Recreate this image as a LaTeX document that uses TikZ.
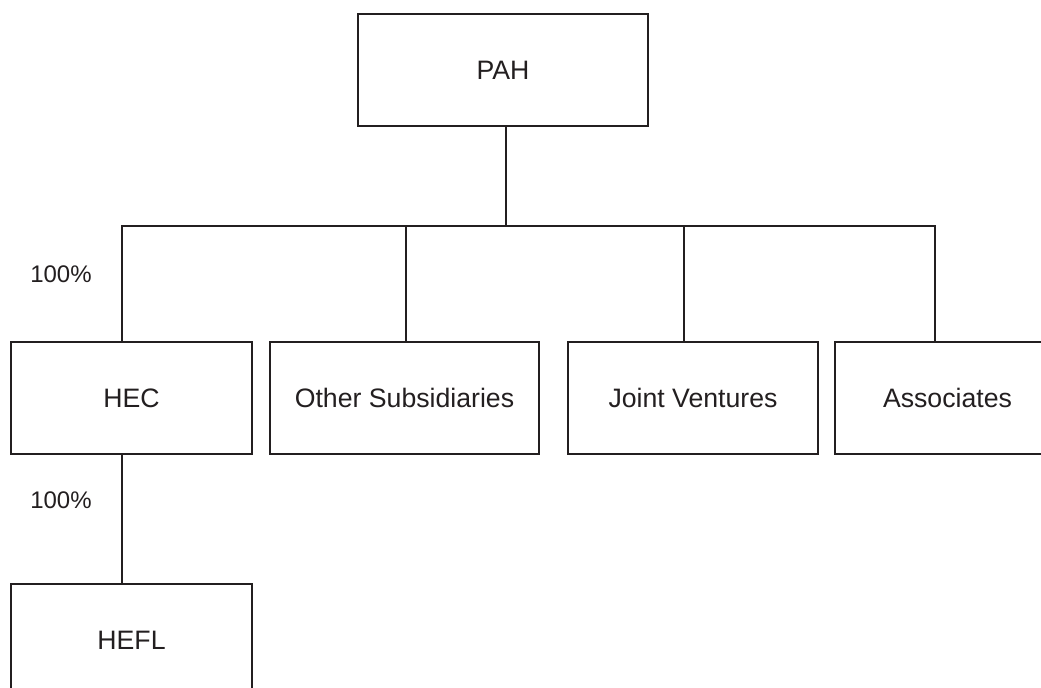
\documentclass[tikz,border=0pt]{standalone}
\usepackage{fontspec}
\setmainfont{Liberation Sans}
\usetikzlibrary{positioning}
\definecolor{ocLine}{RGB}{35,31,32}

\begin{document}
\begin{tikzpicture}[
  x=0.75pt, y=-0.75pt,
  unit/.style={draw=ocLine, line width=1.3pt, rectangle, minimum height=84pt, inner sep=0pt, text=ocLine, font=\fontsize{20}{24}\selectfont},
  link/.style={draw=ocLine, line width=1.3pt},
  pct/.style={text=ocLine, font=\fontsize{18}{22}\selectfont}
]
\clip (0,0) rectangle (1041,688);
\fill[white] (0,0) rectangle (1041,688);
\node[unit, minimum width=217.5pt] (pah) at (503,70) {PAH};
\node[unit, minimum width=180.75pt] (hec) at (131.5,398) {HEC};
\node[unit, minimum width=201.75pt] (other) at (404.5,398) {Other Subsidiaries};
\node[unit, minimum width=187.5pt] (jv) at (693,398) {Joint Ventures};
\node[unit, minimum width=168.75pt] (assoc) at (947.5,398) {Associates};
\node[unit, minimum width=180.75pt] (hefl) at (131.5,640) {HEFL};
\coordinate (bus) at (506,226);
\coordinate (tHEC) at (122,226);
\coordinate (tOther) at (406,226);
\coordinate (tJV) at (684,226);
\coordinate (tAssoc) at (935,226);
% ownership lines
\draw[link] (bus |- pah.south) -- (bus);
\draw[link] (tHEC |- hec.north) -- (tHEC) -- (tAssoc) -- (tAssoc |- assoc.north);
\foreach \t/\n in {tOther/other, tJV/jv}
  \draw[link] (\t) -- (\t |- \n.north);
\draw[link] (tHEC |- hec.south) -- (tHEC |- hefl.north);
\node[pct] (pctHEC) at (61,274) {100\%};
\node[pct] (pctHEFL) at (61,500) {100\%};
\end{tikzpicture}
\end{document}
